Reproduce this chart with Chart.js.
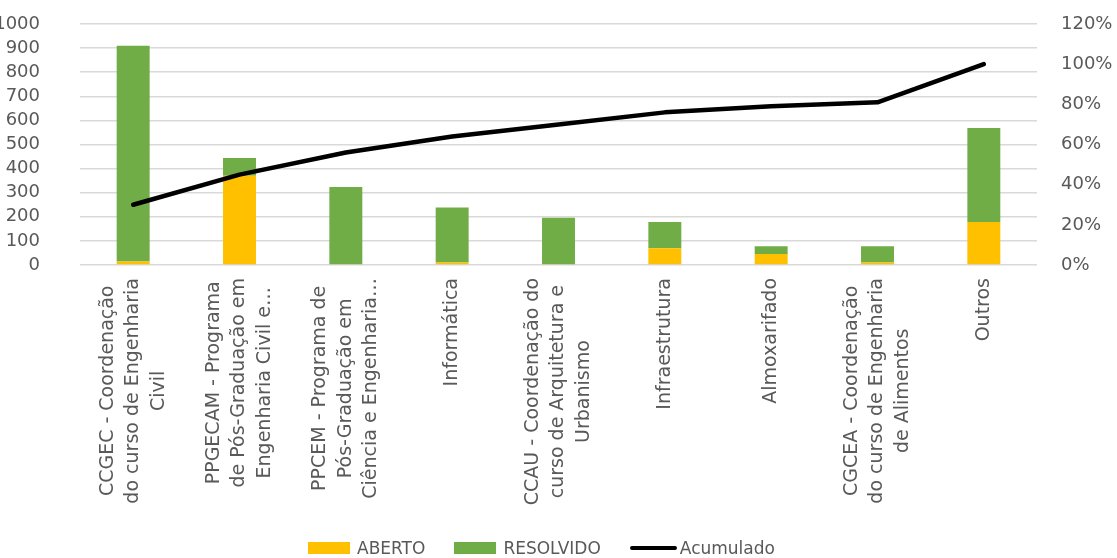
<!DOCTYPE html>
<html>
<head>
<meta charset="utf-8">
<script src="https://cdn.jsdelivr.net/npm/chart.js@4.4.1/dist/chart.umd.min.js"></script>
<style>
  body { margin: 0; background: #fff; }
  #wrap { position: relative; width: 1117px; height: 558px; }
  #legenda { position: absolute; left: 308px; top: 538px; height: 20px; display: flex; align-items: center;
             font-family: "DejaVu Sans"; font-size: 17px; color: #595959; white-space: nowrap; }
  .item { display: flex; align-items: center; margin-right: 29px; }
  .caixa { width: 42px; height: 12px; margin-right: 7px; }
  .linha { width: 47px; height: 4px; border-radius: 2px; margin-right: 3px; }
</style>
</head>
<body>
<div id="wrap">
  <canvas id="grafico" width="1117" height="558"></canvas>
  <div id="legenda"></div>
</div>
<script>
// categorias (linhas do rótulo, como quebradas no original)
const categorias = [
  ["CCGEC - Coordenação", "do curso de Engenharia", "Civil"],
  ["PPGECAM - Programa", "de Pós-Graduação em", "Engenharia Civil e…"],
  ["PPCEM - Programa de", "Pós-Graduação em", "Ciência e Engenharia…"],
  ["Informática"],
  ["CCAU - Coordenação do", "curso de Arquitetura e", "Urbanismo"],
  ["Infraestrutura"],
  ["Almoxarifado"],
  ["CGCEA - Coordenação", "do curso de Engenharia", "de Alimentos"],
  ["Outros"]
];
const aberto    = [15, 370, 0, 10, 0, 69, 46, 10, 178];
const resolvido = [895, 74, 324, 229, 196, 109, 32, 68, 390];
const acumulado = [0.30, 0.45, 0.56, 0.64, 0.70, 0.76, 0.79, 0.81, 1.00];

const ticksEsq = [0, 100, 200, 300, 400, 500, 600, 700, 800, 900, 1000];
const ticksDir = [0, 0.2, 0.4, 0.6, 0.8, 1.0, 1.2];

const cinza = "#595959";
const fonte = "DejaVu Sans";

// desenha os rótulos do eixo x girados, com as linhas centradas
const rotulos = {
  id: "rotulos",
  afterDraw(chart) {
    const ctx = chart.ctx;
    const x = chart.scales.x;
    ctx.save();
    ctx.font = "19px '" + fonte + "'";
    ctx.fillStyle = cinza;
    ctx.textAlign = "center";
    ctx.textBaseline = "middle";
    categorias.forEach((linhas, i) => {
      const px = x.getPixelForTick(i);
      const larg = Math.max(...linhas.map(l => ctx.measureText(l).width));
      ctx.save();
      ctx.translate(px, x.top + 13);
      ctx.rotate(-Math.PI / 2);
      linhas.forEach((l, j) => {
        ctx.fillText(l, -larg / 2, (j - (linhas.length - 1) / 2) * 25.5);
      });
      ctx.restore();
    });
    ctx.restore();
  }
};

// largura fixa do eixo e sem folga vertical extra
function fixaEixo(s) {
  s.width = 80;
  s.paddingTop = 0;
  s.paddingBottom = 0;
}

const chart = new Chart(document.getElementById("grafico"), {
  type: "bar",
  data: {
    labels: categorias.map(l => l.join(" ")),
    datasets: [
      { label: "ABERTO", data: aberto, backgroundColor: "#FFC000", borderWidth: 0,
        barPercentage: 0.31, categoryPercentage: 1, yAxisID: "y" },
      { label: "RESOLVIDO", data: resolvido, backgroundColor: "#70AD47", borderWidth: 0,
        barPercentage: 0.31, categoryPercentage: 1, yAxisID: "y" },
      { type: "line", label: "Acumulado", data: acumulado, borderColor: "#000", backgroundColor: "#000",
        borderWidth: 4.5, pointRadius: 0, tension: 0, borderCapStyle: "round", borderJoinStyle: "round",
        yAxisID: "y1", order: -1 }
    ]
  },
  options: {
    responsive: false,
    animation: false,
    layout: { padding: { top: 24, left: 0, right: 0, bottom: 0 } },
    plugins: { legend: { display: false }, tooltip: { enabled: false } },
    scales: {
      x: {
        stacked: true,
        ticks: { display: false },
        grid: { display: false },
        border: { display: false },
        afterFit: s => { s.height = 293; }
      },
      y: {
        stacked: true,
        min: 0, max: 1000,
        afterBuildTicks: s => { s.ticks = ticksEsq.map(v => ({ value: v })); },
        ticks: { autoSkip: false, padding: 40, color: cinza, font: { family: fonte, size: 18 },
                 callback: v => String(v) },
        grid: { color: "#d9d9d9", lineWidth: 1.5, drawTicks: false },
        border: { display: false },
        afterFit: fixaEixo
      },
      y1: {
        position: "right",
        min: 0, max: 1.2,
        afterBuildTicks: s => { s.ticks = ticksDir.map(v => ({ value: v })); },
        ticks: { autoSkip: false, padding: 24, color: cinza, font: { family: fonte, size: 18 },
                 callback: v => Math.round(v * 100) + "%" },
        grid: { display: false, drawTicks: false },
        border: { display: false },
        afterFit: fixaEixo
      }
    }
  },
  plugins: [rotulos]
});

// legenda em HTML
const legenda = document.getElementById("legenda");
chart.data.datasets.forEach(ds => {
  const item = document.createElement("div");
  item.className = "item";
  const marca = document.createElement("div");
  if (ds.type === "line") {
    marca.className = "linha";
    marca.style.background = ds.borderColor;
  } else {
    marca.className = "caixa";
    marca.style.background = ds.backgroundColor;
  }
  const txt = document.createElement("span");
  txt.textContent = ds.label;
  item.appendChild(marca);
  item.appendChild(txt);
  legenda.appendChild(item);
});
</script>
</body>
</html>
